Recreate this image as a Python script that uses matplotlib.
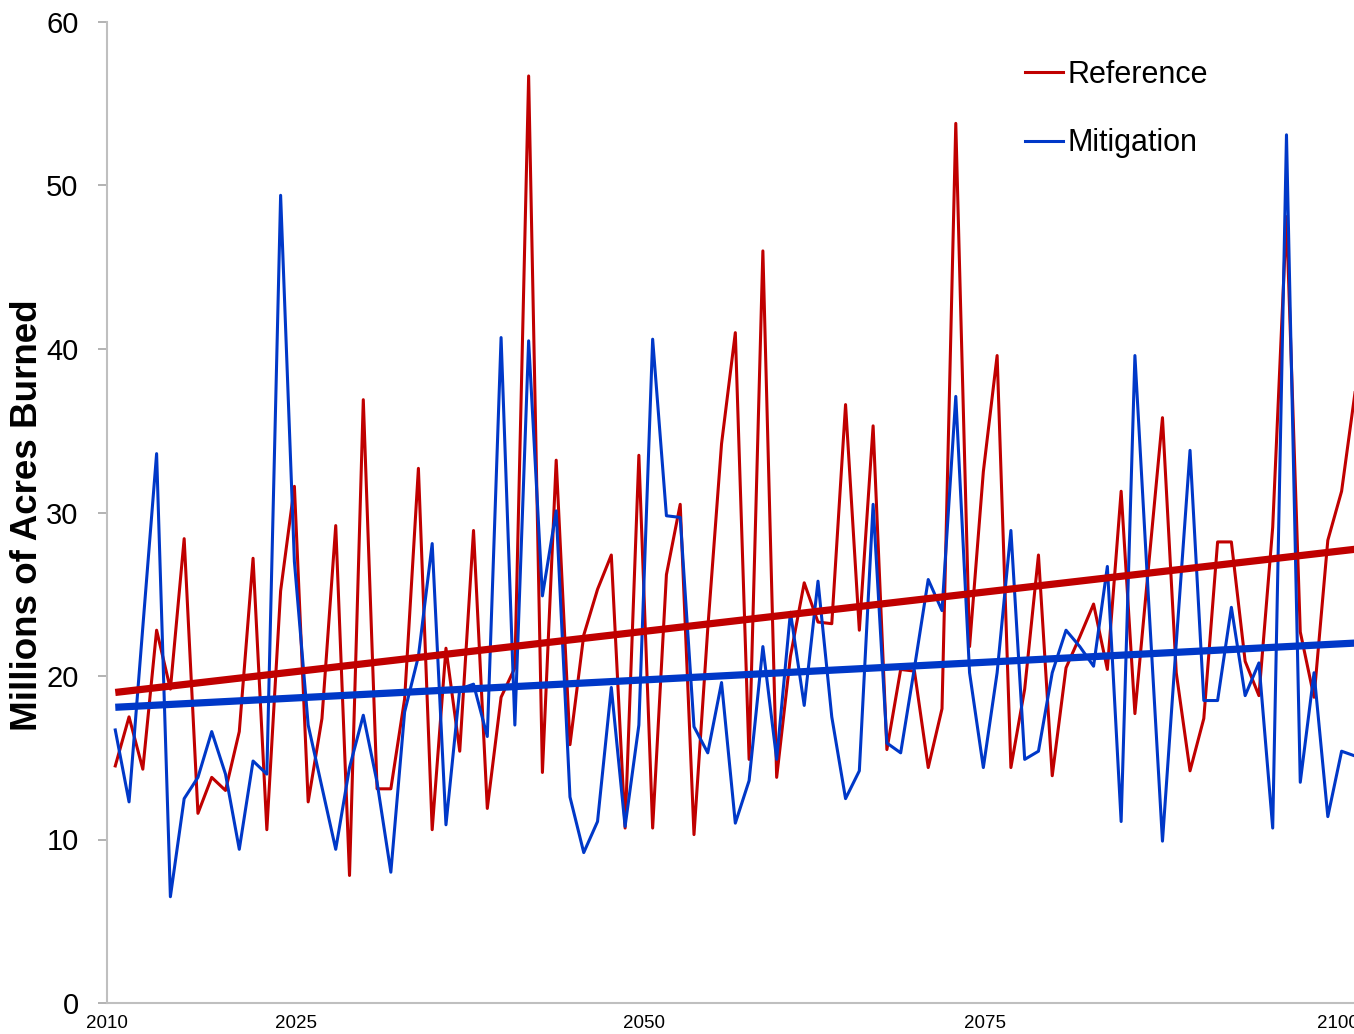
import matplotlib
matplotlib.use("Agg")
import matplotlib.pyplot as plt
import numpy as np

# annual values, millions of acres burned, 2010..2100
years = list(range(2010, 2101))
reference = [
    14.5, 17.5, 14.3, 22.8, 19.2, 28.4, 11.6, 13.8, 13.0, 16.6,
    27.2, 10.6, 25.2, 31.6, 12.3, 17.4, 29.2, 7.8, 36.9, 13.1,
    13.1, 18.6, 32.7, 10.6, 21.7, 15.4, 28.9, 11.9, 18.7, 20.5,
    56.7, 14.1, 33.2, 15.8, 22.5, 25.3, 27.4, 10.7, 33.5, 10.7,
    26.2, 30.5, 10.3, 22.9, 34.2, 41.0, 14.9, 46.0, 13.8, 21.2,
    25.7, 23.3, 23.2, 36.6, 22.8, 35.3, 15.5, 20.4, 20.3, 14.4,
    18.0, 53.8, 21.8, 32.5, 39.6, 14.4, 19.2, 27.4, 13.9, 20.5,
    22.4, 24.4, 20.4, 31.3, 17.7, 26.8, 35.8, 20.2, 14.2, 17.4,
    28.2, 28.2, 20.9, 18.8, 29.1, 48.1, 22.7, 18.7, 28.3, 31.3,
    37.5,
]
mitigation = [
    16.7, 12.3, 23.0, 33.6, 6.5, 12.5, 13.8, 16.6, 14.0, 9.4,
    14.8, 14.0, 49.4, 27.0, 17.0, 13.2, 9.4, 14.4, 17.6, 13.5,
    8.0, 17.8, 21.2, 28.1, 10.9, 19.2, 19.5, 16.3, 40.7, 17.0,
    40.5, 24.9, 30.1, 12.6, 9.2, 11.1, 19.3, 10.8, 17.0, 40.6,
    29.8, 29.7, 16.9, 15.3, 19.6, 11.0, 13.6, 21.8, 14.9, 23.9,
    18.2, 25.8, 17.5, 12.5, 14.2, 30.5, 15.9, 15.3, 20.5, 25.9,
    24.0, 37.1, 20.2, 14.4, 20.2, 28.9, 14.9, 15.4, 20.2, 22.8,
    21.8, 20.6, 26.7, 11.1, 39.6, 24.5, 9.9, 22.0, 33.8, 18.5,
    18.5, 24.2, 18.8, 20.8, 10.7, 53.1, 13.5, 20.2, 11.4, 15.4,
    15.1,
]

# the original's year labels sit about two years left of the data they name
tick_pos = [2009.4, 2023.1, 2048.4, 2073.1, 2098.7]
tick_lab = ["2010", "2025", "2050", "2075", "2100"]

RED = "#C00000"
BLUE = "#0038C8"
FONT = ["Liberation Sans", "DejaVu Sans"]

fig = plt.figure(figsize=(13.54, 10.34), dpi=100)
ax = fig.add_axes([107 / 1354, 31 / 1034, 1 - 107 / 1354, 981 / 1034])

ax.plot(years, reference, color=RED, lw=2.2, label="Reference")
ax.plot(years, mitigation, color=BLUE, lw=2.2, label="Mitigation")

# linear trend of each series
x = np.array(years, dtype=float)
for series, col in [(reference, RED), (mitigation, BLUE)]:
    slope, intercept = np.polyfit(x, np.array(series), 1)
    ax.plot(x, slope * x + intercept, color=col, lw=5.2,
            solid_capstyle="butt")

ax.set_xlim(2009.54, 2099.9)
ax.set_ylim(0, 60)
ax.set_yticks(range(0, 61, 10))
ax.set_xticks(tick_pos)
ax.set_xticklabels(tick_lab, family=FONT, fontsize=13.5)
for lab in ax.get_yticklabels():
    lab.set_family(FONT)
    lab.set_fontsize(21)

ax.tick_params(axis="y", length=6.5, width=1.2, color="#A6A6A6", pad=14)
ax.tick_params(axis="x", length=0, pad=9)
for side in ["top", "right"]:
    ax.spines[side].set_visible(False)
for side in ["left", "bottom"]:
    ax.spines[side].set_color("#BFBFBF")
    ax.spines[side].set_linewidth(1.5)

ax.set_ylabel("Millions of Acres Burned", fontsize=26.5, fontweight="bold",
              family=FONT)
ax.yaxis.set_label_coords(-0.0495, 0.497)

handles = ax.get_lines()[:2]
fig.legend(handles, ["Reference", "Mitigation"], loc="upper left",
           bbox_to_anchor=(1025 / 1354, 1 - 60 / 1034),
           bbox_transform=fig.transFigure, frameon=False,
           prop={"family": FONT, "size": 22}, handlelength=1.23,
           handletextpad=0.16, labelspacing=1.25, borderpad=0,
           borderaxespad=0)

fig.savefig("out.png", dpi=100)
